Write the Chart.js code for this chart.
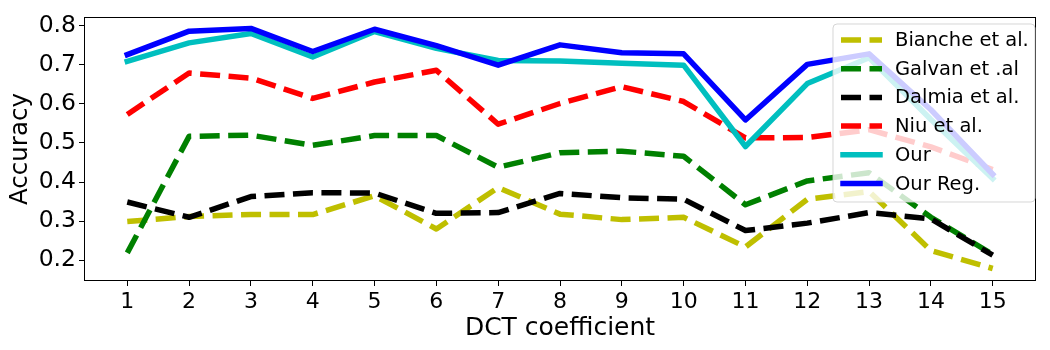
<!DOCTYPE html>
<html>
<head>
<meta charset="UTF-8">
<title>DCT coefficient accuracy</title>
<style>
    body {
        margin: 0;
        background: #fff;
    }
    #chartContainer {
        width: 1050px;
        height: 350px;
    }
</style>
<script src="https://cdn.jsdelivr.net/npm/chart.js"></script>
</head>
<body>

<div id="chartContainer">
    <canvas id="dctChart"></canvas>
</div>

<script>
const dct = [1, 2, 3, 4, 5, 6, 7, 8, 9, 10, 11, 12, 13, 14, 15];
const yTicks = [0.2, 0.3, 0.4, 0.5, 0.6, 0.7, 0.8];

const bianche = [0.299, 0.312, 0.317, 0.317, 0.365, 0.280, 0.386, 0.318, 0.304, 0.310, 0.234, 0.356, 0.376, 0.225, 0.179];
const galvan  = [0.219, 0.517, 0.520, 0.494, 0.519, 0.519, 0.438, 0.475, 0.479, 0.466, 0.342, 0.403, 0.424, 0.310, 0.215];
const dalmia  = [0.349, 0.310, 0.363, 0.373, 0.372, 0.320, 0.322, 0.371, 0.360, 0.356, 0.276, 0.295, 0.322, 0.306, 0.213];
const niu     = [0.573, 0.679, 0.666, 0.614, 0.656, 0.686, 0.548, 0.601, 0.644, 0.606, 0.513, 0.514, 0.534, 0.490, 0.432];
const our     = [0.709, 0.756, 0.780, 0.720, 0.785, 0.742, 0.711, 0.710, 0.704, 0.699, 0.491, 0.652, 0.718, 0.560, 0.409];
const ourReg  = [0.726, 0.786, 0.793, 0.734, 0.791, 0.749, 0.699, 0.751, 0.731, 0.728, 0.559, 0.701, 0.728, 0.585, 0.420];

const seriesNames = ['Bianche et al.', 'Galvan et .al', 'Dalmia et al.', 'Niu et al.', 'Our', 'Our Reg.'];
const seriesValues = [bianche, galvan, dalmia, niu, our, ourReg];
const seriesColors = ['#bfbf00', '#008000', '#000000', '#ff0000', '#00bfbf', '#0000ff'];
const seriesDashed = [true, true, true, true, false, false];

const FONT = "'DejaVu Sans', sans-serif";
const DASH = [20, 8.5];

const datasets = seriesNames.map((name, i) => ({
    label: name,
    data: dct.map((x, j) => ({ x: x, y: seriesValues[i][j] })),
    borderColor: seriesColors[i],
    borderWidth: 5.5,
    borderDash: seriesDashed[i] ? DASH : [],
    borderCapStyle: seriesDashed[i] ? 'butt' : 'square',
    borderJoinStyle: 'round',
    pointRadius: 0,
    tension: 0,
    fill: false,
    order: seriesNames.length - i
}));

// frame + legend drawn over the lines, like matplotlib does
const frameAndLegend = {
    id: 'frameAndLegend',
    afterDatasetsDraw(chart) {
        const ctx = chart.ctx;
        const a = chart.chartArea;
        ctx.save();
        ctx.strokeStyle = '#000';
        ctx.lineWidth = 1;
        ctx.strokeRect(Math.round(a.left) + 0.5, Math.round(a.top) + 0.5,
            Math.round(a.right - a.left) - 1, Math.round(a.bottom - a.top) - 1);

        // legend box
        const bx = 833, by = 24, bw = 202, bh = 178, r = 4;
        ctx.beginPath();
        ctx.moveTo(bx + r, by);
        ctx.arcTo(bx + bw, by, bx + bw, by + bh, r);
        ctx.arcTo(bx + bw, by + bh, bx, by + bh, r);
        ctx.arcTo(bx, by + bh, bx, by, r);
        ctx.arcTo(bx, by, bx + bw, by, r);
        ctx.closePath();
        ctx.fillStyle = 'rgba(255,255,255,0.8)';
        ctx.fill();
        ctx.strokeStyle = 'rgba(204,204,204,0.8)';
        ctx.lineWidth = 1;
        ctx.stroke();

        ctx.font = '19.5px ' + FONT;
        ctx.textBaseline = 'middle';
        ctx.textAlign = 'left';
        chart.data.datasets.forEach((ds, i) => {
            const y = 40 + i * 28.7;
            ctx.beginPath();
            ctx.setLineDash(ds.borderDash);
            ctx.lineCap = ds.borderCapStyle;
            ctx.strokeStyle = ds.borderColor;
            ctx.lineWidth = ds.borderWidth;
            ctx.moveTo(seriesDashed[i] ? 841 : 843, y);
            ctx.lineTo(seriesDashed[i] ? 882 : 880, y);
            ctx.stroke();
            ctx.setLineDash([]);
            ctx.fillStyle = '#000';
            ctx.fillText(ds.label, 895, y + 1);
        });
        ctx.restore();
    }
};

new Chart(document.getElementById('dctChart'), {
    type: 'line',
    data: { datasets: datasets },
    plugins: [frameAndLegend],
    options: {
        responsive: true,
        maintainAspectRatio: false,
        animation: false,
        layout: { padding: { top: 14, right: 14, left: 0, bottom: 0 } },
        plugins: {
            legend: { display: false },
            tooltip: { enabled: false }
        },
        scales: {
            x: {
                type: 'linear',
                min: 0.3,
                max: 15.7,
                afterBuildTicks: s => { s.ticks = dct.map(v => ({ value: v })); },
                afterFit: s => { s.height = 69; },
                grid: {
                    drawOnChartArea: false,
                    drawTicks: true,
                    tickLength: 5,
                    tickColor: '#000'
                },
                border: { display: false },
                ticks: {
                    color: '#000',
                    font: { family: FONT, size: 22 },
                    padding: 3,
                    maxRotation: 0,
                    autoSkip: false
                },
                title: {
                    display: true,
                    text: 'DCT coefficient',
                    color: '#000',
                    font: { family: FONT, size: 25 },
                    padding: { top: 0, bottom: 7 }
                }
            },
            y: {
                min: 0.147,
                max: 0.822,
                afterBuildTicks: s => { s.ticks = yTicks.map(v => ({ value: v })); },
                afterFit: s => { s.width = 84; },
                grid: {
                    drawOnChartArea: false,
                    drawTicks: true,
                    tickLength: 5,
                    tickColor: '#000'
                },
                border: { display: false },
                ticks: {
                    color: '#000',
                    font: { family: FONT, size: 23.5 },
                    padding: 3,
                    callback: v => v.toFixed(1)
                },
                title: {
                    display: true,
                    text: 'Accuracy',
                    color: '#000',
                    font: { family: FONT, size: 24.5 },
                    padding: { top: 6, bottom: 0 }
                }
            }
        }
    }
});
</script>

</body>
</html>
